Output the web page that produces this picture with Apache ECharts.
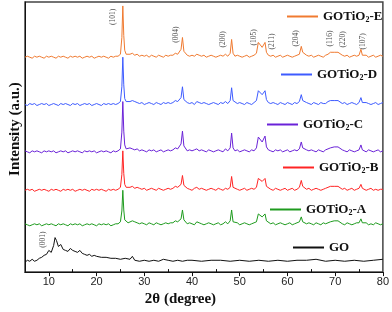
<!DOCTYPE html>
<html>
<head>
<meta charset="utf-8">
<script src="https://cdn.jsdelivr.net/npm/echarts@6/dist/echarts.min.js"></script>
<style>html,body{margin:0;padding:0;background:#fff}#c{width:392px;height:312px}</style>
</head>
<body>
<div id="c"></div>
<script>
// 2θ grid shared by the TiO2 patterns
const thetaTiO2 = [
  5,5.5,6,6.5,7,7.5,8,8.5,9,9.5,10,10.5,11,11.5,12,12.5,13,13.5,14,14.5,15,15.5,16,16.5,17,17.5,18,18.5,19,19.5,20,20.5,21,21.5,22,22.5,23,23.5,24,24.5,
  25,25.3,25.5,25.7,25.9,26.2,26.6,
  27,27.5,28,28.5,29,29.5,30,30.5,31,31.5,32,32.5,33,33.5,34,34.5,35,35.5,36,36.5,
  37,37.4,37.7,38,38.3,38.7,
  39,39.5,40,40.5,41,41.5,42,42.5,43,43.5,44,44.5,45,45.5,46,46.5,47,47.5,
  48,48.3,48.6,
  49,49.5,50,50.5,51,51.5,52,52.5,53,53.5,
  53.9,54.3,54.7,55,55.3,55.6,
  56,56.5,57,57.5,58,58.5,59,59.5,60,60.5,61,61.5,62,62.5,
  62.9,63.2,63.6,
  64,64.5,65,65.5,66,66.5,67,67.5,68,68.5,
  69,69.4,69.8,70.2,70.6,
  71,71.5,72,72.5,73,73.5,74,74.5,75,
  75.4,75.7,
  76,76.5,77,77.5,78,78.5,79,79.5,80
];
// intensities relative to each pattern's own baseline (a.u.)
const intensE = [
  0,1,0,-1,1,0,1,0,-1,1,0,1,0,-1,1,0,1,0,-1,1,0,1,0,1,-1,0,1,0,1,-1,0,1,0,1,0,-1,1,0,1,1,
  3,20,52,22,7,3,2,
  3,4,2,3,1,2,1,2,0,2,1,0,2,1,0,2,1,2,2,4,
  3,2,8,20,6,4,
  2,1,2,1,3,2,1,2,0,1,2,1,0,1,2,1,3,1,
  4,18,4,
  1,2,1,0,1,2,0,1,2,4,
  15,16,10,12,15,5,
  2,1,2,0,1,2,0,1,2,1,0,1,2,3,
  11,5,3,
  2,1,2,0,1,2,1,0,2,3,
  5,6,5,5,5,
  3,2,1,2,0,1,2,1,2,
  8,2,
  1,2,0,1,2,0,1,2,1
];
const intensD = [
  0,-1,1,0,1,-1,0,1,0,1,-1,0,1,0,-1,1,0,1,0,-1,1,0,1,-1,0,1,0,1,-1,0,1,0,-1,1,0,1,0,1,0,1,
  3,18,48,20,6,3,2,
  3,4,3,2,1,2,0,1,2,1,0,2,1,0,2,1,2,1,2,4,
  3,2,7,18,5,4,
  2,1,2,0,3,2,1,2,1,0,1,2,1,0,2,1,3,1,
  4,17,4,
  2,1,2,1,0,2,1,0,2,4,
  14,15,10,11,14,5,
  2,1,2,1,0,2,1,0,2,1,0,2,1,3,
  10,4,3,
  2,1,0,2,1,0,2,1,1,3,
  4,5,4,5,4,
  3,1,2,0,1,2,1,0,2,
  7,2,
  1,2,1,0,1,2,0,1,2
];
const intensC = [
  1,0,-1,1,0,1,0,-1,1,0,1,0,1,-1,0,1,0,1,-1,0,1,0,1,0,-1,1,0,1,0,1,-1,0,1,0,1,0,-1,1,0,1,
  3,20,51,21,7,3,2,
  4,3,2,3,1,2,1,0,2,1,2,0,1,2,0,1,2,1,2,4,
  3,2,8,21,6,4,
  1,2,1,2,3,1,2,1,0,2,1,0,1,2,1,0,3,1,
  4,19,4,
  1,2,0,1,2,1,0,2,1,4,
  15,17,10,12,16,5,
  2,1,0,2,1,2,0,1,2,0,1,2,1,3,
  10,4,2,
  2,1,2,1,0,2,1,0,2,3,
  4,5,5,4,5,
  3,2,1,0,2,1,0,1,2,
  7,2,
  1,0,2,1,0,1,2,0,1
];
const intensB = [
  0,1,0,1,-1,0,1,0,1,0,-1,1,0,1,0,-1,1,0,1,0,1,-1,0,1,0,1,0,-1,1,0,1,0,1,0,-1,1,0,1,0,1,
  3,16,40,17,6,3,2,
  3,4,2,3,2,1,2,0,1,2,1,0,2,1,0,1,2,1,2,4,
  3,2,6,15,5,3,
  2,1,0,2,3,1,2,1,0,1,2,1,0,2,1,0,2,1,
  3,14,3,
  2,1,0,1,2,0,1,2,1,3,
  12,14,9,10,12,4,
  2,1,0,2,1,0,1,2,0,1,2,0,1,3,
  10,4,2,
  1,2,0,1,2,1,0,1,2,3,
  4,5,4,5,4,
  2,1,2,0,1,2,0,1,2,
  6,2,
  1,0,1,2,0,1,0,1,1
];
const intensA = [
  1,0,-1,0,1,0,1,-1,0,1,0,1,0,-1,1,0,1,0,-1,1,0,1,0,1,-1,0,1,0,1,0,-1,1,0,1,0,1,-1,0,1,1,
  3,14,35,15,5,3,2,
  3,4,3,2,1,2,1,0,2,1,0,2,1,0,1,2,1,2,2,4,
  3,2,6,15,5,3,
  1,2,1,0,3,2,1,0,1,2,1,0,1,2,0,1,3,1,
  4,15,3,
  1,2,0,1,2,1,0,1,2,3,
  11,12,8,9,11,4,
  2,1,2,0,1,2,1,0,1,2,0,1,2,3,
  8,3,2,
  1,2,1,0,2,1,0,2,1,2,
  3,4,4,3,4,
  2,1,0,2,1,0,1,2,2,
  6,2,
  1,2,0,1,0,2,1,0,1
];
// GO pattern
const thetaGO = [
  5,5.5,6,6.5,7,7.5,8,8.5,9,9.5,10,10.5,11,
  11.3,11.6,
  12,12.5,13,13.5,14,14.5,15,15.5,16,16.5,17,17.5,18,18.5,19,19.5,20,
  21,22,23,24,25,26,27,
  27.5,
  28,29,30,31,32,33,34,35,36,37,38,39,40,
  42,44,46,48,50,52,54,56,58,60,62,64,66,68,70,72,74,76,78,80
];
const intensGO = [
  10,12,11,13,11,12,14,15,17,18,22,20,27,
  35,32,
  26,28,23,22,21,24,22,21,20,22,19,18,17,18,16,17,16,
  15,15,14,14,13,14,13,
  16,
  12,11,12,11,12,11,13,12,11,12,11,12,12,
  11,12,12,11,12,11,12,11,12,11,12,12,13,11,12,11,12,11,12,13
];
const seriesNames = ['GOTiO2-E','GOTiO2-D','GOTiO2-C','GOTiO2-B','GOTiO2-A','GO'];
const seriesColors = ['#F07A30','#3D5BFF','#6A22D8','#FF2424','#1E9B1E','#111111'];
const baselines = [218,170,122,83,48,0];
// reflection labels [2θ, intensity, text]
const peakLabels = [
  [23.5,259,'(101)'],[36.6,241,'(004)'],[46.5,236,'(200)'],[53.1,238,'(105)'],
  [56.8,234,'(211)'],[61.8,237,'(204)'],[69.0,237,'(116)'],[71.7,236,'(220)'],
  [75.9,234,'(107)'],[8.8,33,'(001)']
];
const xTicks = [10,20,30,40,50,60,70,80];
const xMinorTicks = [15,25,35,45,55,65,75];

const profiles = [intensE,intensD,intensC,intensB,intensA];
const serif = 'Liberation Serif';
const series = [];
for (let k = 0; k < 5; k++) {
  series.push({
    name: seriesNames[k], type: 'line', symbol: 'none', animation: false,
    lineStyle: {width: 1, color: seriesColors[k]}, itemStyle: {color: seriesColors[k]},
    data: thetaTiO2.map((t, i) => [t, profiles[k][i] + baselines[k]])
  });
}
series.push({
  name: seriesNames[5], type: 'line', symbol: 'none', animation: false,
  lineStyle: {width: 1, color: seriesColors[5]}, itemStyle: {color: seriesColors[5]},
  data: thetaGO.map((t, i) => [t, intensGO[i] + baselines[5]])
});
series.push({
  type: 'scatter', symbolSize: 0, animation: false, silent: true,
  data: peakLabels.map(p => ({value: [p[0], p[1]], name: p[2]})),
  label: {show: true, position: 'inside', rotate: 90, formatter: '{b}',
          fontFamily: serif, fontSize: 7.5, color: '#222'}
});

const legendPos = [[287,10],[281,68],[267,118],[283,161],[270,203],[293,241]];
const legends = seriesNames.map((n, k) => ({
  data: [n], left: legendPos[k][0], top: legendPos[k][1], padding: 0,
  icon: 'rect', itemWidth: 31, itemHeight: 2, itemGap: 0,
  selectedMode: false,
  formatter: s => s.replace('O2', 'O{s|2}'),
  textStyle: {fontFamily: serif, fontWeight: 'bold', fontSize: 13, color: '#111',
    rich: {s: {fontFamily: serif, fontWeight: 'bold', fontSize: 8, color: '#111', padding: [7,0,0,0]}}}
}));

const chart = echarts.init(document.getElementById('c'));
chart.setOption({
  animation: false,
  backgroundColor: '#fff',
  legend: legends,
  grid: {left: 22, right: 7, top: 2, bottom: 36, show: true, borderColor: '#444', borderWidth: 1.5},
  xAxis: [{
    type: 'value', min: 5, max: 80,
    name: '2θ (degree)', nameLocation: 'middle', nameGap: 19,
    nameTextStyle: {fontFamily: serif, fontWeight: 'bold', fontSize: 15, color: '#111', padding: [0, 47, 0, 0]},
    axisLine: {lineStyle: {color: '#111', width: 1}},
    axisTick: {customValues: xTicks, length: 4, lineStyle: {color: '#111'}},
    axisLabel: {customValues: xTicks, fontFamily: 'Liberation Sans', fontSize: 11, color: '#222', margin: 4},
    splitLine: {show: false}
  }, {
    type: 'value', min: 5, max: 80, position: 'bottom',
    axisLine: {show: false},
    axisTick: {customValues: xMinorTicks, inside: true, length: 3, lineStyle: {color: '#111'}},
    axisLabel: {show: false}, splitLine: {show: false}
  }],
  yAxis: {
    type: 'value', min: 0, max: 274,
    name: 'Intensity (a.u.)', nameLocation: 'middle', nameGap: 2, nameRotate: 90,
    nameTextStyle: {fontFamily: serif, fontWeight: 'bold', fontSize: 15, color: '#111', padding: [0, 0, 0, 16]},
    axisLine: {show: true, lineStyle: {color: '#111'}},
    axisTick: {show: false}, axisLabel: {show: false}, splitLine: {show: false}
  },
  series: series
});
</script>
</body>
</html>
